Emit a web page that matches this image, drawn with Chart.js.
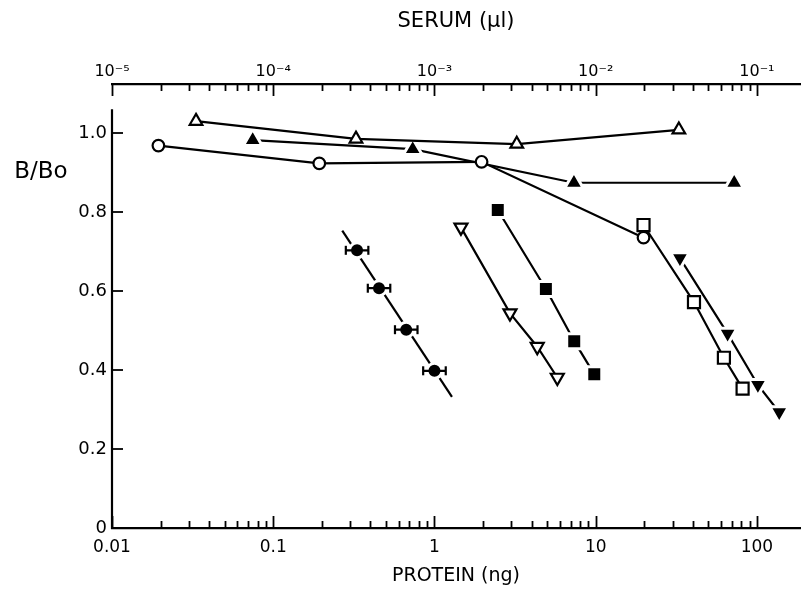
<!DOCTYPE html>
<html><head><meta charset="utf-8">
<script src="https://cdn.jsdelivr.net/npm/chart.js@4"></script>
<style>html,body{margin:0;padding:0;background:#fff;overflow:hidden}#wrap{width:802px;height:589px;overflow:hidden}canvas{display:block}</style>
</head><body><div id="wrap"><canvas id="c" width="802" height="589" style="width:802px;height:589px"></canvas></div>
<script>
// ---- data ----
const openCircleX = [0.0194, 0.193, 1.96, 19.8];
const openCircleY = [0.968, 0.923, 0.927, 0.735];
const openTriX = [0.0332, 0.326, 3.24, 32.8];
const openTriY = [1.030, 0.985, 0.972, 1.008];
const filledTriX = [0.0746, 0.733, 7.33, 72.3];
const filledTriY = [0.982, 0.959, 0.874, 0.874];
const filledCircleX = [0.331, 0.453, 0.668, 1.00];
const filledCircleY = [0.703, 0.607, 0.502, 0.398];
const filledCircleErrLow = [0.282, 0.386, 0.569, 0.851];
const filledCircleErrHigh = [0.389, 0.532, 0.785, 1.175];
const filledCircleFitX = [0.268, 1.284];
const filledCircleFitY = [0.753, 0.332];
const openDownTriX = [1.46, 2.94, 4.34, 5.78];
const openDownTriY = [0.761, 0.544, 0.459, 0.381];
const filledSquareX = [2.47, 4.91, 7.36, 9.80];
const filledSquareY = [0.805, 0.605, 0.473, 0.389];
const openSquareX = [19.8, 40.7, 62.4, 81.5];
const openSquareY = [0.767, 0.572, 0.431, 0.353];
const filledDownTriX = [33.3, 65.8, 101.4, 137.5];
const filledDownTriY = [0.683, 0.492, 0.362, 0.293];

// ---- axes ----
const bottomTickValues = [0.01, 0.1, 1, 10, 100];
const bottomTickLabels = ['0.01', '0.1', '1', '10', '100'];
const topTickValues = [1e-5, 1e-4, 1e-3, 1e-2, 1e-1];
const topTickLabels = ['10\u207B\u2075', '10\u207B\u2074', '10\u207B\u00B3', '10\u207B\u00B2', '10\u207B\u00B9'];
const yTickValues = [0, 0.2, 0.4, 0.6, 0.8, 1.0];
const yTickLabels = ['0', '0.2', '0.4', '0.6', '0.8', '1.0'];
const xMin = 0.01, xMax = 185, x2Min = 1e-5, x2Max = 0.185;
const yMin = 0, yMax = 1.124, yAxisTop = 1.06;
const xTitle = 'PROTEIN (ng)';
const x2Title = 'SERUM (\u00B5l)';
const yTitle = 'B/Bo';

const FAM = "'DejaVu Sans', sans-serif";
const pts = (xs, ys) => xs.map((x, i) => ({x, y: ys[i]}));
const errData = [];
filledCircleX.forEach((_, i) => {
  errData.push({x: filledCircleErrLow[i], y: filledCircleY[i]},
               {x: filledCircleErrHigh[i], y: filledCircleY[i]},
               {x: null, y: null});
});

const base = {showLine: true, borderColor: '#000', borderWidth: 2.2, tension: 0};
const openMk = (style, r, rot) => Object.assign({}, base, {pointStyle: style, pointRadius: r, pointRotation: rot || 0,
  pointBackgroundColor: '#fff', pointBorderColor: '#000', pointBorderWidth: 2.2});
const filledMk = (style, r, rot) => Object.assign({}, base, {pointStyle: style, pointRadius: r, pointRotation: rot || 0,
  pointBackgroundColor: '#000', pointBorderColor: '#fff', pointBorderWidth: 3});

const datasets = [
  Object.assign({}, base, {data: errData, pointStyle: 'line', pointRotation: 90, pointRadius: 4.5,
    pointBorderWidth: 2.2, pointBorderColor: '#000', spanGaps: false}),
  Object.assign(filledMk('circle', 7.5), {data: pts(filledCircleX, filledCircleY), showLine: false}),
  Object.assign({}, base, {data: pts(filledCircleFitX, filledCircleFitY), pointRadius: 0}),
  Object.assign(openMk('circle', 5.8), {data: pts(openCircleX, openCircleY)}),
  Object.assign(openMk('triangle', 7.3), {data: pts(openTriX, openTriY)}),
  Object.assign(filledMk('triangle', 10.8), {data: pts(filledTriX, filledTriY)}),
  Object.assign(openMk('triangle', 7.5, 180), {data: pts(openDownTriX, openDownTriY)}),
  Object.assign(filledMk('rect', 10.6), {data: pts(filledSquareX, filledSquareY)}),
  Object.assign(openMk('rect', 8.5), {data: pts(openSquareX, openSquareY)}),
  Object.assign(filledMk('triangle', 10.8, 180), {data: pts(filledDownTriX, filledDownTriY)})
];

function drawLogTicks(ctx, scale, yBase, dir) {
  const lo = Math.floor(Math.log10(scale.min) + 1e-9);
  const hi = Math.ceil(Math.log10(scale.max));
  for (let e = lo; e <= hi; e++) {
    for (let k = 1; k <= 9; k++) {
      const v = k * Math.pow(10, e);
      if (v < scale.min * 0.999 || v > scale.max) continue;
      const px = Math.round(scale.getPixelForValue(v)) + 0.5;
      const len = k === 1 ? 12 : 7;
      ctx.beginPath();
      ctx.moveTo(px, yBase);
      ctx.lineTo(px, yBase + dir * len);
      ctx.stroke();
    }
  }
}

const axisDecor = {
  id: 'axisDecor',
  afterDraw(chart) {
    const {ctx} = chart;
    const x = chart.scales.x, x2 = chart.scales.x2, y = chart.scales.y;
    ctx.save();
    ctx.strokeStyle = '#000';
    ctx.lineWidth = 2.2;
    const y0 = y.getPixelForValue(yMin), yT = y.getPixelForValue(yAxisTop);
    ctx.beginPath(); ctx.moveTo(x.left, y0 + 1); ctx.lineTo(x.left, yT); ctx.stroke();
    ctx.lineWidth = 1.8;
    yTickValues.forEach(v => {
      const py = Math.round(y.getPixelForValue(v));
      ctx.beginPath(); ctx.moveTo(x.left, py); ctx.lineTo(x.left + 11, py); ctx.stroke();
    });
    drawLogTicks(ctx, x, x.top, -1);
    drawLogTicks(ctx, x2, x2.bottom, 1);
    ctx.fillStyle = '#000';
    ctx.font = "23px " + FAM;
    ctx.textAlign = 'center';
    ctx.textBaseline = 'middle';
    ctx.fillText(yTitle, y.left + 41, y.getPixelForValue(0.901));
    ctx.restore();
  }
};

const tickFont = (s) => ({family: FAM, size: s});
const noPad = s => { s.paddingLeft = 0; s.paddingRight = 0; s.paddingTop = 0; s.paddingBottom = 0; };

new Chart(document.getElementById('c'), {
  type: 'scatter',
  data: {datasets},
  options: {
    responsive: false,
    animation: false,
    events: [],
    layout: {autoPadding: false, padding: {left: 0, right: 2, top: 0, bottom: 0}},
    plugins: {legend: {display: false}, tooltip: {enabled: false}},
    scales: {
      x: {
        type: 'logarithmic', position: 'bottom', min: xMin, max: xMax,
        grid: {display: false, drawTicks: false},
        border: {display: true, color: '#000', width: 2.2},
        afterBuildTicks: s => { s.ticks = bottomTickValues.map(v => ({value: v})); },
        afterFit: s => { s.height = 61; noPad(s); },
        ticks: {autoSkip: false, maxRotation: 0, padding: 9, color: '#000', font: tickFont(17),
          callback: (v, i) => bottomTickLabels[i]},
        title: {display: true, text: xTitle, color: '#000', font: {family: FAM, size: 19}, padding: {top: 0, bottom: 2}}
      },
      x2: {
        type: 'logarithmic', axis: 'x', position: 'top', min: x2Min, max: x2Max,
        grid: {display: false, drawTicks: false},
        border: {display: true, color: '#000', width: 2.2},
        afterBuildTicks: s => { s.ticks = topTickValues.map(v => ({value: v})); },
        afterFit: s => { s.height = 84; noPad(s); },
        ticks: {autoSkip: false, maxRotation: 0, padding: 3, color: '#000', font: tickFont(16),
          callback: (v, i) => topTickLabels[i]},
        title: {display: true, text: x2Title, color: '#000', font: {family: FAM, size: 21}, padding: {top: 9, bottom: 0}}
      },
      y: {
        type: 'linear', position: 'left', min: yMin, max: yMax,
        grid: {display: false, drawTicks: false},
        border: {display: false},
        afterBuildTicks: s => { s.ticks = yTickValues.map(v => ({value: v})); },
        afterFit: s => { s.width = 112; noPad(s); },
        ticks: {autoSkip: false, padding: 5, color: '#000', font: tickFont(18),
          callback: (v, i) => yTickLabels[i]}
      }
    }
  },
  plugins: [axisDecor]
});
</script></body></html>
